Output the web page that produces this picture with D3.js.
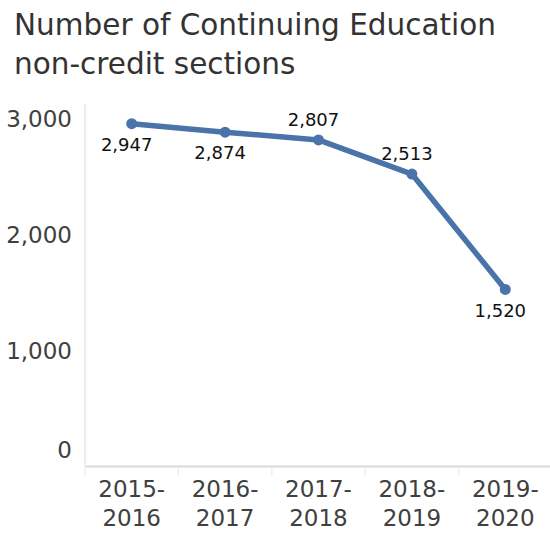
<!DOCTYPE html>
<html>
<head>
<meta charset="utf-8">
<script src="https://cdn.jsdelivr.net/npm/d3@7"></script>
<style>
  html, body { margin: 0; padding: 0; background: #fff; }
  svg { display: block; }
</style>
</head>
<body>
<svg id="chart" width="550" height="533"></svg>
<script>
// Number of Continuing Education non-credit sections by academic year
const years = ["2015-2016", "2016-2017", "2017-2018", "2018-2019", "2019-2020"];
const sections = [2947, 2874, 2807, 2513, 1520];
const yTicks = [0, 1000, 2000, 3000];
const titleLines = ["Number of Continuing Education", "non-credit sections"];

const svg = d3.select("#chart");
const plot = { left: 85, right: 552, top: 104, bottom: 466 };

const font = "'DejaVu Sans', sans-serif";
const lineColor = "#4a74a9";

// Title
svg.append("g")
  .selectAll("text")
  .data(titleLines)
  .join("text")
  .attr("x", 14)
  .attr("y", (d, i) => 35 + i * 38.5)
  .attr("font-family", font)
  .attr("font-size", 29.5)
  .attr("fill", "#333333")
  .text(d => d);

// Scales
const x = d3.scaleBand().domain(years).range([plot.left, plot.right]).padding(0);
const y = d3.scaleLinear().domain([0, 3000]).range([plot.bottom, 117.5]);

// Y axis line
svg.append("line")
  .attr("x1", plot.left).attr("x2", plot.left)
  .attr("y1", plot.top).attr("y2", plot.bottom)
  .attr("stroke", "#e6e6e6").attr("stroke-width", 1.5);

// Y tick labels (zero label sits just above the baseline)
svg.append("g")
  .selectAll("text")
  .data(yTicks)
  .join("text")
  .attr("x", 72)
  .attr("y", d => d === 0 ? y(d) - 16 : y(d) + 1)
  .attr("dy", "0.35em")
  .attr("text-anchor", "end")
  .attr("font-family", font)
  .attr("font-size", 23)
  .attr("fill", "#404040")
  .text(d => d3.format(",")(d));

// X axis baseline and category ticks
const xAxis = svg.append("g")
  .attr("transform", `translate(0,${plot.bottom})`)
  .call(d3.axisBottom(x).tickSize(0).tickFormat(""));
xAxis.select(".domain").attr("stroke", "#d9d9d9").attr("stroke-width", 2);

svg.append("g")
  .selectAll("line")
  .data(years)
  .join("line")
  .attr("x1", d => x(d)).attr("x2", d => x(d))
  .attr("y1", plot.bottom + 1).attr("y2", plot.bottom + 10)
  .attr("stroke", "#eeeeee").attr("stroke-width", 1.5);

// X category labels split over two lines
const xLabels = svg.append("g")
  .selectAll("text")
  .data(years)
  .join("text")
  .attr("text-anchor", "middle")
  .attr("font-family", font)
  .attr("font-size", 23)
  .attr("fill", "#404040");
xLabels.each(function(d) {
  const parts = d.split("-");
  const t = d3.select(this);
  const cx = x(d) + x.bandwidth() / 2;
  t.append("tspan").attr("x", cx).attr("y", 497).text(parts[0] + "-");
  t.append("tspan").attr("x", cx).attr("y", 526).text(parts[1]);
});

// Line series
const pts = years.map((yr, i) => ({ yr, v: sections[i] }));
const line = d3.line()
  .x(d => x(d.yr) + x.bandwidth() / 2)
  .y(d => y(d.v));

svg.append("path")
  .datum(pts)
  .attr("d", line)
  .attr("fill", "none")
  .attr("stroke", lineColor)
  .attr("stroke-width", 5.5)
  .attr("stroke-linejoin", "round");

svg.append("g")
  .selectAll("circle")
  .data(pts)
  .join("circle")
  .attr("cx", d => x(d.yr) + x.bandwidth() / 2)
  .attr("cy", d => y(d.v))
  .attr("r", 5.5)
  .attr("fill", lineColor);

// Value labels: below the point for the first two and last years, above otherwise
const below = [true, true, false, false, true];
svg.append("g")
  .selectAll("text")
  .data(pts)
  .join("text")
  .attr("x", d => x(d.yr) + x.bandwidth() / 2 - 5)
  .attr("y", (d, i) => y(d.v) + (below[i] ? 21 : -20))
  .attr("dy", "0.35em")
  .attr("text-anchor", "middle")
  .attr("font-family", font)
  .attr("font-size", 18)
  .attr("fill", "#111111")
  .text(d => d3.format(",")(d.v));
</script>
</body>
</html>
